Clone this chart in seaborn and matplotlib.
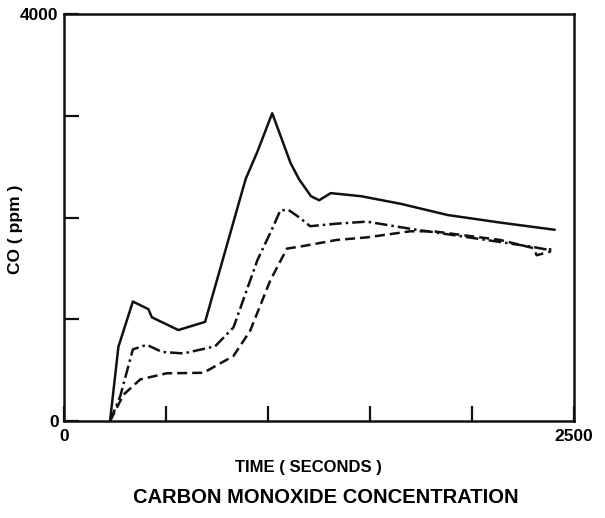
import matplotlib
matplotlib.use("Agg")
import matplotlib.pyplot as plt
import seaborn as sns
import numpy as np

# CO readings (time in s, CO in ppm)
solid_t = [225, 266, 337, 413, 430, 560, 691, 890, 947, 1020, 1110, 1152, 1210, 1250, 1307, 1455, 1650, 1880, 2140, 2405]
solid_co = [0, 730, 1175, 1100, 1020, 895, 975, 2380, 2645, 3025, 2535, 2375, 2210, 2170, 2240, 2210, 2135, 2025, 1950, 1880]

dashdot_t = [225, 275, 337, 405, 479, 585, 740, 830, 947, 1020, 1060, 1100, 1157, 1206, 1336, 1484, 1696, 2137, 2300, 2382]
dashdot_co = [0, 245, 705, 750, 680, 665, 735, 920, 1580, 1890, 2072, 2075, 1995, 1915, 1940, 1960, 1890, 1760, 1710, 1680]

dashed_t = [225, 291, 373, 503, 683, 830, 912, 1010, 1092, 1157, 1336, 1484, 1696, 1810, 2137, 2300, 2316, 2382, 2382]
dashed_co = [0, 260, 410, 470, 475, 640, 888, 1380, 1695, 1715, 1780, 1805, 1865, 1865, 1780, 1700, 1630, 1665, 1700]

x_ticks = [0, 500, 1000, 1500, 2000, 2500]
x_ticklabels = ["0", "", "", "", "", "2500"]
y_ticks = [0, 1000, 2000, 3000, 4000]
y_ticklabels = ["0", "", "", "", "4000"]

sns.set_style("white")
plt.rcParams["font.family"] = ["Liberation Sans", "DejaVu Sans"]
plt.rcParams["font.weight"] = "bold"
plt.rcParams["text.color"] = "black"
plt.rcParams["axes.labelcolor"] = "black"
plt.rcParams["xtick.color"] = "black"
plt.rcParams["ytick.color"] = "black"

fig = plt.figure(figsize=(6.05, 5.18), dpi=100)
ax = fig.add_axes([0.106, 0.187, 0.843, 0.786])

lw = 1.8
sns.lineplot(x=solid_t, y=solid_co, ax=ax, color="#111111", lw=lw,
             estimator=None, sort=False)
sns.lineplot(x=dashdot_t, y=dashdot_co, ax=ax, color="#111111", lw=lw,
             estimator=None, sort=False, linestyle=(0, (5, 1.6, 1, 1.6)))
sns.lineplot(x=dashed_t, y=dashed_co, ax=ax, color="#111111", lw=lw,
             estimator=None, sort=False, linestyle=(0, (4, 2)))

ax.set_xlim(0, 2500)
ax.set_ylim(0, 4000)
ax.set_xticks(x_ticks)
ax.set_xticklabels(x_ticklabels)
ax.set_yticks(y_ticks)
ax.set_yticklabels(y_ticklabels)
ax.tick_params(bottom=True, left=True, direction="in", length=11, width=1.6,
               color="#111111", labelcolor="black", labelsize=12.5, pad=6)
ax.tick_params(axis="y", pad=4)

for sp in ax.spines.values():
    sp.set_visible(True)
    sp.set_linewidth(1.8)
    sp.set_color("#111111")

ax.set_xlabel("TIME ( SECONDS )", fontsize=12, fontweight="bold", color="black")
ax.xaxis.set_label_coords(0.48, -0.095)
ax.set_ylabel("CO ( ppm )", fontsize=12.5, fontweight="bold", color="black")
ax.yaxis.set_label_coords(-0.08, 0.47)

fig.text(0.538, 0.04, "CARBON MONOXIDE CONCENTRATION", ha="center",
         va="center", fontsize=14.5, fontweight="bold", color="black")

fig.savefig("out.png", dpi=100)
